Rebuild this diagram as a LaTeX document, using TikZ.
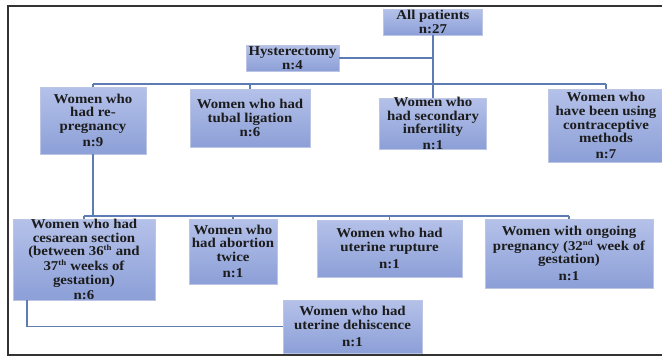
\documentclass[tikz,border=0pt]{standalone}
\usepackage{fontspec}
\newfontfamily\boxfont[FakeStretch=1.1]{Liberation Serif}
\definecolor{boxtop}{HTML}{B4C1E9}
\definecolor{boxbot}{HTML}{8C9FD7}
\definecolor{boxline}{HTML}{BCC6E4}
\definecolor{conn}{HTML}{5E7CB4}
\definecolor{frame}{HTML}{333333}
\definecolor{ink}{HTML}{1C1C1C}
\tikzset{
  box/.style={draw=boxline, line width=0.7pt, top color=boxtop, bottom color=boxbot, inner sep=0pt},
  txt/.style={align=center, inner sep=0pt, text=ink, font=\boxfont\bfseries\fontsize{13.5}{13.6}\selectfont},
  conn/.style={draw=conn, line width=1.1pt},
}
\newcommand{\mkbox}[6]{% name, cx, cy, w, h, text
  \node[box, minimum width=#4pt, minimum height=#5pt] (#1) at (#2,#3) {};
  \node[txt] (#1-t) at (#1.center) {#6};
}
\newcommand{\sps}[1]{\textsuperscript{\fontsize{8}{8}\selectfont #1}}
\begin{document}
\begin{tikzpicture}[x=1pt, y=-1pt]
\useasboundingbox (0,0) rectangle (662,356);
% frame
\draw[frame, line width=1.2pt] (670,6) -- (8,6) -- (8,355) -- (670,355);

\mkbox{all}{433}{22}{99}{26}{All patients\\n:27}
\mkbox{hyst}{292.5}{58}{93}{26}{Hysterectomy\\n:4}
\mkbox{rep}{93}{120.5}{106}{67}{Women who\\had re-\\pregnancy\\[3pt]n:9}
\mkbox{tub}{250}{118}{120}{58}{Women who had\\tubal ligation\\[1pt]n:6}
\mkbox{sec}{433}{123.5}{107}{51}{Women who\\had secondary\\infertility\\[2pt]n:1}
\mkbox{con}{606}{125.5}{116}{73}{Women who\\have been using\\contraceptive\\methods\\[2pt]n:7}
\mkbox{ces}{84}{259.5}{142}{81}{Women who had\\cesarean section\\(between 36\sps{th} and\\37\sps{th} weeks of\\gestation)\\[2pt]n:6}
\mkbox{abo}{233}{251.5}{88}{65}{Women who\\had abortion\\twice\\[3pt]n:1}
\mkbox{rup}{389.5}{248.5}{145}{57}{Women who had\\uterine rupture\\[3pt]n:1}
\mkbox{ong}{569}{253.5}{168}{69}{Women with ongoing\\pregnancy (32\sps{nd} week of\\gestation)\\[3pt]n:1}
\mkbox{deh}{352.5}{326.5}{139}{53}{Women who had\\uterine dehiscence\\[3pt]n:1}

\coordinate (b1) at (433,84);
\coordinate (b2) at (93,216);

% level 1
\draw[conn] (all.south) -- (sec.north);
\draw[conn] (hyst.east) -- (hyst.east -| all.south);
\draw[conn] (rep.north |- b1) -- (con.north |- b1);
\draw[conn] (rep.north) -- (rep.north |- b1);
\draw[conn] (tub.north) -- (tub.north |- b1);
\draw[conn] (con.north) -- (con.north |- b1);

% level 2
\draw[conn] (rep.south) -- (b2);
\draw[conn] (ces.north |- b2) -- (ong.north |- b2);
\draw[conn] (ces.north) -- (ces.north |- b2);
\draw[conn] (abo.north) -- (abo.north |- b2);
\draw[conn] (rup.north) -- (rup.north |- b2);
\draw[conn] (ong.north) -- (ong.north |- b2);

% dehiscence
\draw[conn] ([xshift=-57pt]ces.south) |- (deh.west);
\end{tikzpicture}
\end{document}
